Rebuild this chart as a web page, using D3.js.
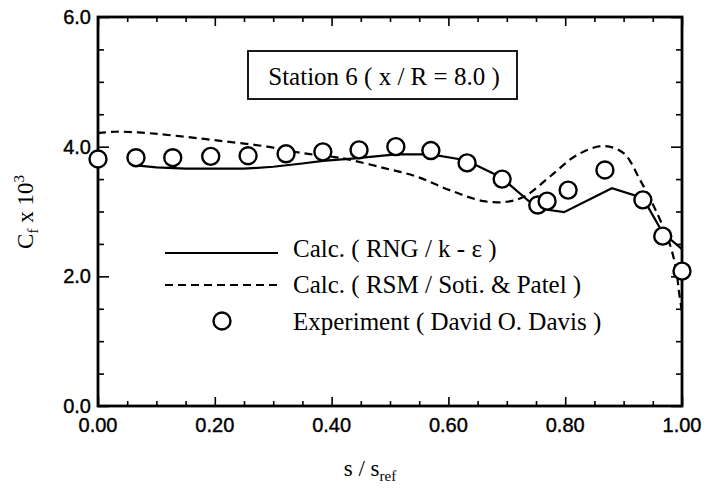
<!DOCTYPE html>
<html>
<head>
<meta charset="utf-8">
<script src="https://cdn.jsdelivr.net/npm/d3@7"></script>
<style>
  body { margin: 0; background: #fff; }
  svg { display: block; }
</style>
</head>
<body>
<div id="chart"></div>
<script>
// Experimental data (David O. Davis)
const expS  = [0.000, 0.065, 0.128, 0.193, 0.257, 0.322, 0.385, 0.447, 0.510, 0.570, 0.632, 0.692, 0.753, 0.769, 0.805, 0.868, 0.933, 0.967, 1.000];
const expCf = [3.81, 3.83, 3.83, 3.85, 3.86, 3.89, 3.92, 3.95, 4.00, 3.94, 3.75, 3.50, 3.10, 3.16, 3.33, 3.64, 3.18, 2.62, 2.08];

// Calc. RNG / k-eps (solid)
const rngS  = [0.065, 0.10, 0.15, 0.20, 0.25, 0.30, 0.35, 0.385, 0.44, 0.51, 0.57, 0.63, 0.69, 0.752, 0.798, 0.88, 0.933, 0.967, 1.000];
const rngCf = [3.71, 3.68, 3.66, 3.66, 3.66, 3.69, 3.74, 3.78, 3.82, 3.88, 3.88, 3.79, 3.53, 3.05, 2.99, 3.36, 3.21, 2.67, 2.42];

// Calc. RSM / Soti. & Patel (dashed)
const rsmS  = [0.00, 0.03, 0.07, 0.12, 0.20, 0.29, 0.35, 0.405, 0.43, 0.49, 0.545, 0.602, 0.66, 0.70, 0.73, 0.774, 0.82, 0.865, 0.90, 0.928, 0.957, 0.979, 0.99, 0.995, 1.00];
const rsmCf = [4.21, 4.23, 4.22, 4.18, 4.10, 4.00, 3.90, 3.84, 3.80, 3.67, 3.54, 3.33, 3.16, 3.15, 3.23, 3.54, 3.87, 4.01, 3.90, 3.49, 2.98, 2.50, 2.10, 1.75, 1.45];

const xTickVals = [0, 0.2, 0.4, 0.6, 0.8, 1.0];
const yTickVals = [0, 2, 4, 6];
const legendLabels = ["Calc. ( RNG / k - \u03b5 )", "Calc. ( RSM / Soti. & Patel )", "Experiment ( David O. Davis )"];
const stationLabel = "Station 6 ( x / R = 8.0 )";

// Dimensions
const W = 707, H = 497;
const margin = { left: 98, top: 17, right: 25, bottom: 91 };
const iw = W - margin.left - margin.right;
const ih = H - margin.top - margin.bottom;

const serif = "'Liberation Serif', 'Times New Roman', serif";
const sans = "'Liberation Sans', Arial, sans-serif";

const svg = d3.select("#chart").append("svg")
    .attr("width", W)
    .attr("height", H);

const x = d3.scaleLinear().domain([0, 1]).range([margin.left, margin.left + iw]);
const y = d3.scaleLinear().domain([0, 6]).range([margin.top + ih, margin.top]);

// Ticks (inward on all four sides)
const xMinor = d3.range(0, 1.0001, 0.05);
const yMinor = d3.range(0, 6.0001, 0.5);
const isMajor = (v, step) => Math.abs(v / step - Math.round(v / step)) < 1e-6;

function addAxis(axisFn, scale, tx, ty, vals, step, bigLen, smallLen) {
    vals.forEach(v => {
        const len = isMajor(v, step) ? bigLen : smallLen;
        const g = svg.append("g").attr("transform", `translate(${tx},${ty})`)
            .call(axisFn(scale).tickValues([v]).tickSize(len).tickFormat(""));
        g.select(".domain").remove();
        g.selectAll("line").attr("stroke", "#000").attr("stroke-width", 1.6);
    });
}
addAxis(d3.axisTop, x, 0, margin.top + ih, xMinor, 0.2, 9, 5);
addAxis(d3.axisBottom, x, 0, margin.top, xMinor, 0.2, 9, 5);
addAxis(d3.axisRight, y, margin.left, 0, yMinor, 2, 11, 6);
addAxis(d3.axisLeft, y, margin.left + iw, 0, yMinor, 2, 11, 6);

// Frame
svg.append("rect")
    .attr("x", margin.left).attr("y", margin.top)
    .attr("width", iw).attr("height", ih)
    .attr("fill", "none").attr("stroke", "#000").attr("stroke-width", 2.8);

// Tick labels
svg.append("g").selectAll("text").data(xTickVals).join("text")
    .attr("x", d => x(d)).attr("y", margin.top + ih + 26)
    .attr("text-anchor", "middle")
    .attr("font-family", sans).attr("font-size", 20)
    .attr("stroke", "#000").attr("stroke-width", 0.4)
    .text(d => d3.format(".2f")(d));

svg.append("g").selectAll("text").data(yTickVals).join("text")
    .attr("x", margin.left - 7).attr("y", d => y(d) + 7)
    .attr("text-anchor", "end")
    .attr("font-family", sans).attr("font-size", 20)
    .attr("stroke", "#000").attr("stroke-width", 0.4)
    .text(d => d3.format(".1f")(d));

// Axis titles
const yTitle = svg.append("text")
    .attr("transform", `translate(33,212) rotate(-90)`)
    .attr("text-anchor", "middle")
    .attr("font-family", serif).attr("font-size", 23);
yTitle.append("tspan").text("C");
yTitle.append("tspan").attr("font-size", 15).attr("dy", 5).text("f");
yTitle.append("tspan").attr("dy", -5).text(" x 10");
yTitle.append("tspan").attr("font-size", 15).attr("dy", -9).text("3");

const xTitle = svg.append("text")
    .attr("x", 370).attr("y", 476)
    .attr("text-anchor", "middle")
    .attr("font-family", serif).attr("font-size", 23);
xTitle.append("tspan").text("s / s");
xTitle.append("tspan").attr("font-size", 15).attr("dy", 5).text("ref");

// Lines
const line = d3.line().x(d => x(d[0])).y(d => y(d[1]));

svg.append("path")
    .datum(d3.zip(rsmS, rsmCf))
    .attr("d", line.curve(d3.curveCatmullRom))
    .attr("fill", "none").attr("stroke", "#000")
    .attr("stroke-width", 2.2).attr("stroke-dasharray", "8,5");

svg.append("path")
    .datum(d3.zip(rngS, rngCf))
    .attr("d", line.curve(d3.curveLinear))
    .attr("fill", "none").attr("stroke", "#000")
    .attr("stroke-width", 2.2);

// Experimental points
svg.append("g").selectAll("circle").data(d3.zip(expS, expCf)).join("circle")
    .attr("cx", d => x(d[0])).attr("cy", d => y(d[1]))
    .attr("r", 8.5)
    .attr("fill", "#fff").attr("stroke", "#000").attr("stroke-width", 2.4);

// Station box
svg.append("rect")
    .attr("x", 248).attr("y", 51).attr("width", 269).attr("height", 48)
    .attr("fill", "#fff").attr("stroke", "#000").attr("stroke-width", 1.8);
svg.append("text")
    .attr("x", 384).attr("y", 85)
    .attr("text-anchor", "middle")
    .attr("font-family", serif).attr("font-size", 25)
    .text(stationLabel);

// Legend
const leg = svg.append("g");
leg.append("line").attr("x1", 165).attr("x2", 278).attr("y1", 253).attr("y2", 253)
    .attr("stroke", "#000").attr("stroke-width", 2.2);
leg.append("line").attr("x1", 165).attr("x2", 278).attr("y1", 285).attr("y2", 285)
    .attr("stroke", "#000").attr("stroke-width", 2.2).attr("stroke-dasharray", "8,5");
leg.append("circle").attr("cx", 222).attr("cy", 321).attr("r", 8.5)
    .attr("fill", "#fff").attr("stroke", "#000").attr("stroke-width", 2.4);
const legY = [257, 293, 330];
leg.selectAll("text").data(legendLabels).join("text")
    .attr("x", 293).attr("y", (d, i) => legY[i])
    .attr("font-family", serif).attr("font-size", 25)
    .text(d => d);
</script>
</body>
</html>
